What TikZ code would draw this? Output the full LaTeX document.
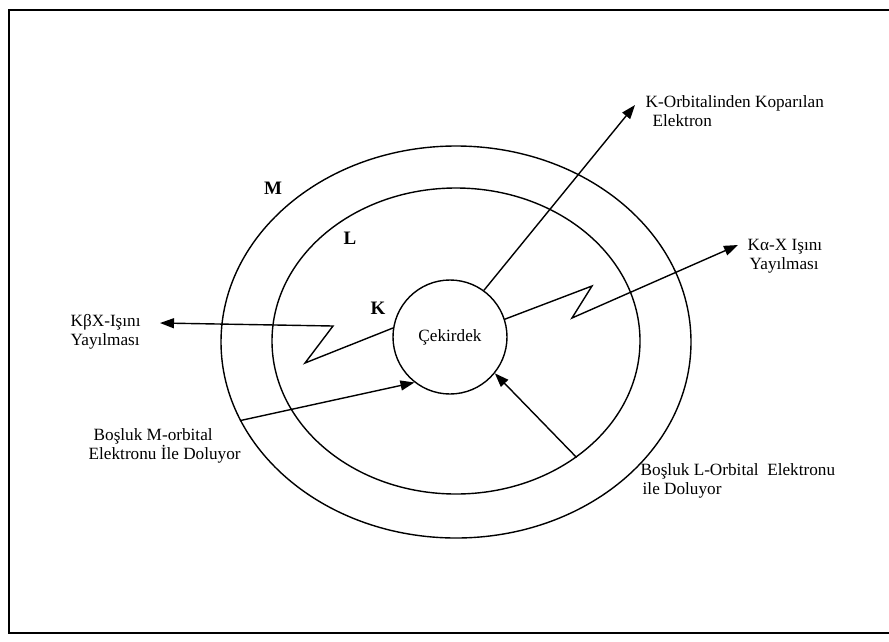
\documentclass[tikz,border=0pt]{standalone}
\usepackage{fontspec}
\setmainfont{Liberation Serif}
\usetikzlibrary{arrows.meta, shapes.geometric}

\begin{document}
\begin{tikzpicture}[
    x=1pt, y=-1pt,
    line width=1.4pt,
    orb/.style={draw, ellipse, inner sep=0pt},
    lbl/.style={anchor=west, align=left, inner sep=0pt, font=\fontsize{17.2}{19.5}\selectfont},
    shell/.style={inner sep=0pt, font=\bfseries\fontsize{19}{21}\selectfont},
    ray/.style={-{Triangle[length=14pt, width=10pt]}}
  ]
  \useasboundingbox (0,0) rectangle (889,641);
  \draw[line width=1.2pt] (889,10) -- (9,10) -- (9,633) -- (889,633);

  % shells and nucleus
  \node[orb, minimum width=470pt, minimum height=392pt] (M) at (456,342) {};
  \node[orb, minimum width=368pt, minimum height=306pt] (L) at (456,341) {};
  \node[draw, circle, minimum size=114pt, inner sep=0pt, font=\fontsize{17.2}{19.5}\selectfont] (nuc) at (450,337) {Çekirdek};

  \node[shell] (lm) at (273,188) {M};
  \node[shell] (ll) at (350,238) {L};
  \node[shell] (lk) at (378,308) {K};

  % arrow ends and zigzag corners
  \coordinate (ktip) at (635,105);
  \coordinate (a1) at (592,286);
  \coordinate (a2) at (572,318);
  \coordinate (atip) at (738,245);
  \coordinate (b1) at (305,363);
  \coordinate (b2) at (333,326);
  \coordinate (btip) at (160,323);

  \draw[ray] (nuc.54) -- (ktip);
  \draw[ray] (nuc.18) -- (a1) -- (a2) -- (atip);
  \draw[ray] (nuc.171) -- (b1) -- (b2) -- (btip);
  \draw[ray] (M.200.6) -- (nuc.232.5);
  \draw[ray] (L.316.2) -- (nuc.321);

  % labels
  \node[lbl] (kout) at (645,111) {K-Orbitalinden Koparılan\\\hspace*{7pt}Elektron};
  \node[lbl] (kalpha) at (747,256) {Kα-X Işını\\\hspace*{2pt}Yayılması};
  \node[lbl] (kbeta) at (70,332) {KβX-Işını\\Yayılması};
  \node[lbl] (mfill) at (88,446) {\hspace*{5pt}Boşluk M-orbital\\Elektronu İle Doluyor};
  \node[lbl] (lfill) at (640,481) {Boşluk L-Orbital\ \ Elektronu\\\hspace*{2pt}ile Doluyor};
\end{tikzpicture}
\end{document}
